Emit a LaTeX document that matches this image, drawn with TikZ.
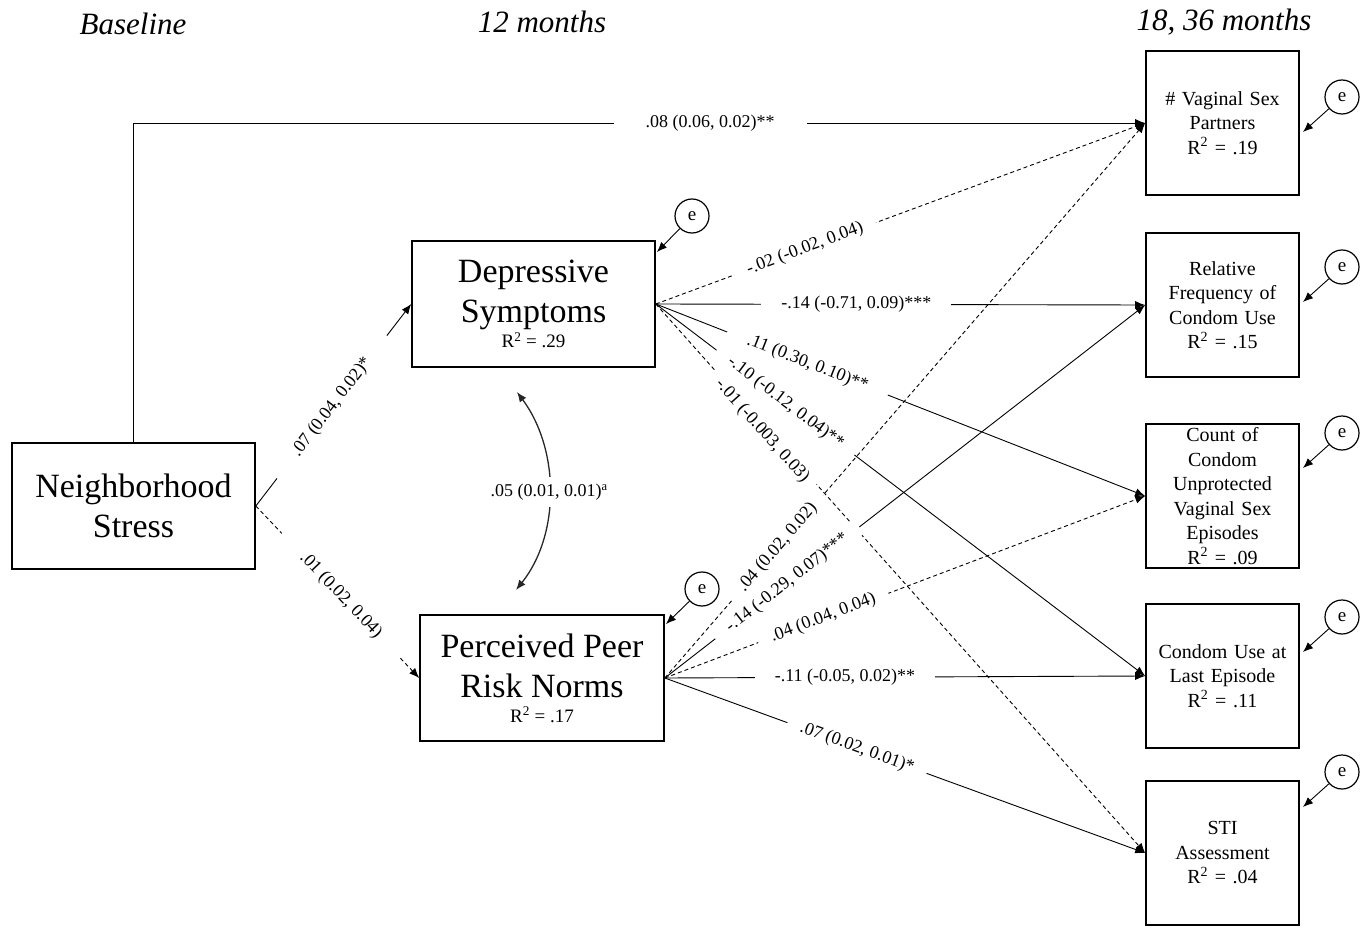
\documentclass[tikz,border=0pt]{standalone}
\usepackage{fontspec}
\setmainfont{Liberation Serif}
\usetikzlibrary{arrows.meta,calc,positioning}

\tikzset{
  var/.style={draw, line width=1.6pt, align=center, inner sep=2pt, font=\fontsize{34}{40}\selectfont},
  outcome/.style={draw, line width=1.6pt, align=center, minimum width=153pt, minimum height=144pt,
    text width=145pt, inner ysep=0pt, font=\fontsize{20}{24.5}\selectfont},
  err/.style={draw, circle, line width=1.2pt, minimum size=34pt, inner sep=0pt, font=\fontsize{19}{20}\selectfont},
  sig/.style={line width=0.9pt, -{Latex[length=10pt,width=8pt]}},
  nonsig/.style={sig, dash pattern=on 4pt off 3pt},
  coef/.style={fill=white, text=black, inner xsep=18pt, inner ysep=0pt, font=\fontsize{18}{20}\selectfont},
  hdr/.style={font=\fontsize{31}{33}\selectfont\itshape},
}

\begin{document}
\begin{tikzpicture}[x=1pt, y=-1pt]
        \useasboundingbox (0,0) rectangle (1369,928);

        % time points
        \node[hdr] (t0) at (133,24) {Baseline};
        \node[hdr] (t12) at (542,22) {12 months};
        \node[hdr] (t18) at (1224,22) {18, 36 months};

        % predictor and mediators
        \node[var, minimum width=243pt, minimum height=126pt] (ns) at (133.5,506) {Neighborhood\\Stress};
        \node[var, minimum width=243pt, minimum height=126pt] (dep) at (533.5,304)
            {Depressive\\Symptoms\\[-15pt]{\fontsize{19}{22}\selectfont R\textsuperscript{2} = .29}};
        \node[var, minimum width=244pt, minimum height=126pt] (ppn) at (542,678)
            {Perceived Peer\\Risk Norms\\[-15pt]{\fontsize{19}{22}\selectfont R\textsuperscript{2} = .17}};

        % outcomes
        \node[outcome] (o1) at (1222.5,123) {\# Vaginal Sex\\Partners\\R\textsuperscript{2} = .19};
        \node[outcome] (o2) at (1222.5,305) {Relative\\Frequency of\\Condom Use\\R\textsuperscript{2} = .15};
        \node[outcome] (o3) at (1222.5,496) {Count of\\Condom\\Unprotected\\Vaginal Sex\\Episodes\\R\textsuperscript{2} = .09};
        \node[outcome] (o4) at (1222.5,676) {Condom Use at\\Last Episode\\R\textsuperscript{2} = .11};
        \node[outcome] (o5) at (1222.5,853) {STI\\Assessment\\R\textsuperscript{2} = .04};

        % residuals
        \foreach \i/\y in {1/97,2/267,3/433,4/617,5/772}{
          \node[err] (e\i) at (1342,\y) {e};
          \coordinate (r\i) at (1303,\y+35);
          \draw[sig] (e\i) -- (r\i);
        }
        \node[err] (edep) at (692,216) {e};
        \coordinate (rdep) at (657,252);
        \draw[sig] (edep) -- (rdep);
        \node[err] (eppn) at (702,589) {e};
        \coordinate (rppn) at (666,624);
        \draw[sig] (eppn) -- (rppn);

        % a paths
        \draw[sig] (ns.east) -- node[coef, sloped, pos=0.49, inner xsep=30pt] {.07 (0.04, 0.02)*} (dep.west);
        \draw[nonsig] (ns.east) -- node[coef, sloped, pos=0.52, inner xsep=30pt] {.01 (0.02, 0.04)} (ppn.west);
        \draw[sig] (ns.north) |- node[coef, pos=0.785, inner xsep=32pt] {.08 (0.06, 0.02)**} (o1.west);

        % residual covariance
        \coordinate (cv1) at (517,392);
        \coordinate (cv2) at (516,590);
        \draw[line width=1.3pt, black!85, {Latex[length=10pt,width=8pt]}-{Latex[length=10pt,width=8pt]}]
            (cv1) .. controls (560,450) and (560,535) .. node[coef, inner xsep=2pt, inner ysep=7pt] {.05 (0.01, 0.01)\textsuperscript{a}} (cv2);

        % b paths from depressive symptoms
        \draw[nonsig] (dep.east) -- node[coef, sloped, pos=0.305, inner xsep=14pt] {-.02 (-0.02, 0.04)} (o1.west);
        \draw[sig] (dep.east) -- node[coef, pos=0.41, inner xsep=20pt] {-.14 (-0.71, 0.09)***} (o2.west);
        \draw[sig] (dep.east) -- node[coef, sloped, pos=0.31, inner xsep=22pt] {.11 (0.30, 0.10)**} (o3.west);
        \draw[sig] (dep.east) -- node[coef, sloped, pos=0.265, inner xsep=16pt] {-.10 (-0.12, 0.04)**} (o4.west);
        \draw[nonsig] (dep.east) -- node[coef, sloped, pos=0.225, yshift=-5pt, inner xsep=10pt, inner ysep=4pt] {-.01 (-0.003, 0.03)} (o5.west);

        % b paths from peer norms
        \draw[nonsig] (ppn.east) -- node[coef, sloped, pos=0.235, inner xsep=14pt] {.04 (0.02, 0.02)} (o1.west);
        \draw[sig] (ppn.east) -- node[coef, sloped, pos=0.255, inner xsep=16pt] {-.14 (-0.29, 0.07)***} (o2.west);
        \draw[nonsig] (ppn.east) -- node[coef, sloped, pos=0.33, inner xsep=14pt] {.04 (0.04, 0.04)} (o3.west);
        \draw[sig] (ppn.east) -- node[coef, pos=0.375, inner xsep=20pt] {-.11 (-0.05, 0.02)**} (o4.west);
        \draw[sig] (ppn.east) -- node[coef, sloped, pos=0.4, inner xsep=14pt] {.07 (0.02, 0.01)*} (o5.west);
\end{tikzpicture}
\end{document}
